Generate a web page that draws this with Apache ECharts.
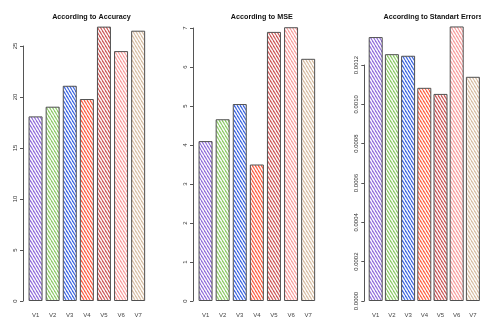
<!DOCTYPE html>
<html>
<head>
<meta charset="utf-8">
<script src="https://cdn.jsdelivr.net/npm/echarts@6/dist/echarts.min.js"></script>
<style>
  html, body { margin: 0; padding: 0; background: #fff; }
  #chart { width: 481px; height: 321px; }
</style>
</head>
<body>
<div id="chart"></div>
<script>
const categories = ['V1', 'V2', 'V3', 'V4', 'V5', 'V6', 'V7']
const accuracy = [18.1, 19.05, 21.1, 19.8, 26.9, 24.5, 26.5]
const mse = [4.10, 4.66, 5.05, 3.50, 6.90, 7.02, 6.21]
const stdErrors = [0.001342, 0.001255, 0.001247, 0.001084, 0.001053, 0.001396, 0.00114]
const titles = ['According to Accuracy', 'According to MSE', 'According to Standart Errors']
const hatchColors = ['#9370DB', '#8FCB6A', '#4169E1', '#FF6347', '#CD5C5C', '#F8A0A0', '#D8BFA5']

// diagonal hatch like R's density/angle fill
function hatch(color) {
  const w = 3, h = 5
  const c = document.createElement('canvas')
  c.width = w
  c.height = h
  const ctx = c.getContext('2d')
  ctx.fillStyle = '#fff'
  ctx.fillRect(0, 0, w, h)
  ctx.strokeStyle = color
  ctx.lineWidth = 1.2
  for (const dx of [-w, 0, w]) {
    ctx.beginPath()
    ctx.moveTo(dx, 0)
    ctx.lineTo(dx + w, h)
    ctx.stroke()
  }
  return c
}

const patterns = hatchColors.map(col => ({ image: hatch(col), repeat: 'repeat' }))

// one panel per metric
const panels = [
  { data: accuracy, left: 27, top: 46, offset: 4, max: 25, interval: 5, fmt: v => String(v), center: 86.5 },
  { data: mse, left: 197, top: 28, offset: 4, max: 7, interval: 1, fmt: v => String(v), center: 256.8 },
  { data: stdErrors, left: 367.6, top: 65, offset: 3.3, max: 0.0012, interval: 0.0002, fmt: v => v.toFixed(4), center: 428 }
]

const chart = echarts.init(document.getElementById('chart'))

const option = {
  backgroundColor: '#fff',
  animation: false,
  title: panels.map((p, i) => ({
    text: titles[i],
    left: p.center,
    top: 9,
    textAlign: 'center',
    textStyle: {
      fontFamily: 'Liberation Sans',
      fontWeight: 'bold',
      fontSize: 7.2,
      color: '#111'
    }
  })),
  grid: panels.map(p => ({
    left: p.left,
    top: p.top,
    width: 119.7,
    bottom: 20
  })),
  xAxis: panels.map((p, i) => ({
    type: 'category',
    gridIndex: i,
    data: categories,
    axisLine: { show: false },
    axisTick: { show: false },
    axisLabel: {
      margin: 11,
      fontSize: 6,
      color: '#444',
      fontFamily: 'Liberation Sans'
    }
  })),
  yAxis: panels.map((p, i) => ({
    type: 'value',
    gridIndex: i,
    min: 0,
    max: p.max,
    interval: p.interval,
    offset: p.offset,
    splitLine: { show: false },
    axisLine: { show: true, lineStyle: { color: '#555', width: 1 } },
    axisTick: { show: true, length: 3, lineStyle: { color: '#555' } },
    axisLabel: {
      rotate: 90,
      margin: 5,
      fontSize: 6,
      color: '#333',
      fontFamily: 'Liberation Sans',
      formatter: p.fmt
    }
  })),
  series: panels.map((p, i) => ({
    type: 'bar',
    xAxisIndex: i,
    yAxisIndex: i,
    barWidth: 14,
    clip: false,
    data: p.data.map((v, j) => ({
      value: v,
      itemStyle: {
        color: patterns[j],
        borderColor: '#505050',
        borderWidth: 1
      }
    }))
  }))
}

chart.setOption(option)
</script>
</body>
</html>
